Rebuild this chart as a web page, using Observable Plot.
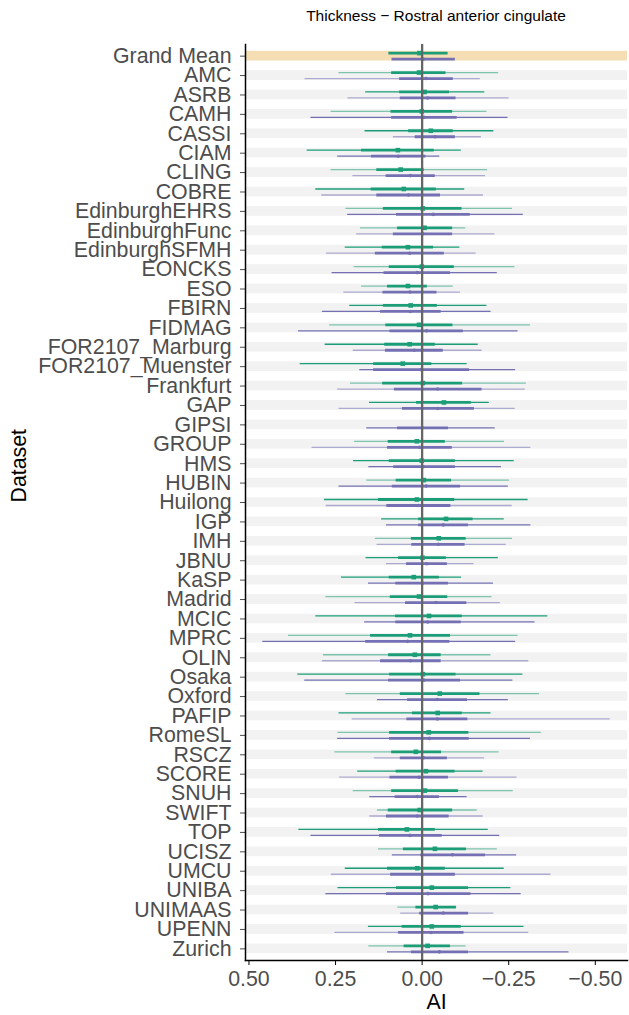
<!DOCTYPE html>
<html><head><meta charset="utf-8">
<script src="https://cdn.jsdelivr.net/npm/d3@7"></script>
<script src="https://cdn.jsdelivr.net/npm/@observablehq/plot@0.6"></script>
<style>
body{margin:0;background:#fff;font-family:"Liberation Sans",Arial,sans-serif;}
#title{height:30px;box-sizing:border-box;padding-top:7px;padding-left:245px;padding-right:2px;text-align:center;font-size:15.5px;color:#000;line-height:18px;white-space:nowrap;}
</style></head><body>
<div id="title">Thickness − Rostral anterior cingulate</div>
<div id="chart"></div>
<script>
const datasets = ["Grand Mean","AMC","ASRB","CAMH","CASSI","CIAM","CLING","COBRE","EdinburghEHRS","EdinburghFunc","EdinburghSFMH","EONCKS","ESO","FBIRN","FIDMAG","FOR2107_Marburg","FOR2107_Muenster","Frankfurt","GAP","GIPSI","GROUP","HMS","HUBIN","Huilong","IGP","IMH","JBNU","KaSP","Madrid","MCIC","MPRC","OLIN","Osaka","Oxford","PAFIP","RomeSL","RSCZ","SCORE","SNUH","SWIFT","TOP","UCISZ","UMCU","UNIBA","UNIMAAS","UPENN","Zurich"];

// [outer upper, inner upper, median, inner lower, outer lower] of AI
const greenIntervals = [
[null,0.096,0.008,-0.075,null],
[0.240,0.088,0.009,-0.069,-0.221],
[0.163,0.065,-0.007,-0.079,-0.181],
[0.263,0.090,0.001,-0.088,-0.187],
[0.165,0.039,-0.025,-0.090,-0.207],
[0.332,0.175,0.070,-0.035,-0.113],
[0.263,0.131,0.062,-0.006,-0.189],
[0.307,0.147,0.053,-0.041,-0.123],
[0.220,0.112,-0.002,-0.115,-0.261],
[0.178,0.071,-0.007,-0.088,-0.126],
[0.222,0.115,0.041,-0.033,-0.109],
[0.196,0.095,0.001,-0.093,-0.268],
[0.175,0.100,0.041,-0.015,-0.090],
[0.209,0.112,0.033,-0.044,-0.187],
[0.267,0.105,0.009,-0.089,-0.313],
[0.280,0.108,0.036,-0.038,-0.162],
[0.352,0.140,0.056,-0.028,-0.130],
[0.207,0.114,-0.002,-0.117,-0.301],
[0.152,0.016,-0.063,-0.142,-0.194],
null,
[0.195,0.098,0.015,-0.067,-0.238],
[0.198,0.095,0.001,-0.096,-0.266],
[0.160,0.075,-0.005,-0.085,-0.252],
[0.282,0.126,0.015,-0.094,-0.306],
[0.117,0.010,-0.069,-0.147,-0.237],
[0.135,0.031,-0.048,-0.127,-0.261],
[0.162,0.068,-0.001,-0.070,-0.220],
[0.233,0.095,0.024,-0.050,-0.114],
[0.278,0.092,0.009,-0.074,-0.202],
[0.307,0.077,-0.020,-0.116,-0.363],
[0.386,0.149,0.035,-0.082,-0.277],
[0.285,0.097,0.021,-0.055,-0.199],
[0.359,0.094,-0.002,-0.098,-0.291],
[0.220,0.063,-0.051,-0.167,-0.339],
[0.240,0.028,-0.045,-0.116,-0.199],
[0.243,0.094,-0.019,-0.135,-0.344],
[0.252,0.088,0.018,-0.056,-0.222],
[0.186,0.075,-0.011,-0.095,-0.176],
[0.199,0.088,-0.008,-0.105,-0.263],
[0.129,0.098,0.007,-0.088,-0.159],
[0.356,0.126,0.044,-0.038,-0.191],
[0.126,0.054,-0.037,-0.128,-0.217],
[0.222,0.100,0.014,-0.067,-0.237],
[0.243,0.074,-0.028,-0.134,-0.256],
[0.070,0.018,-0.039,-0.099,-0.100],
[0.155,0.058,-0.028,-0.113,-0.294],
[0.154,0.052,-0.016,-0.082,-0.127]
];

const purpleIntervals = [
[null,0.087,-0.003,-0.096,null],
[0.338,0.065,-0.011,-0.090,-0.168],
[0.214,0.063,-0.016,-0.098,-0.251],
[0.321,0.088,-0.005,-0.101,-0.248],
[0.083,0.020,-0.037,-0.096,-0.171],
[0.244,0.146,0.069,-0.011,-0.051],
[0.200,0.104,0.034,-0.038,-0.183],
[0.290,0.131,0.039,-0.053,-0.177],
[0.215,0.074,-0.032,-0.139,-0.292],
[0.189,0.083,-0.002,-0.088,-0.210],
[0.276,0.135,0.036,-0.064,-0.156],
[0.260,0.110,0.014,-0.082,-0.217],
[0.226,0.113,0.035,-0.043,-0.111],
[0.288,0.120,0.034,-0.055,-0.199],
[0.357,0.093,-0.013,-0.119,-0.277],
[0.199,0.106,0.023,-0.061,-0.173],
[0.180,0.140,0.003,-0.137,-0.270],
[0.244,0.080,-0.045,-0.173,-0.298],
[0.240,0.057,-0.045,-0.151,-0.269],
[0.160,0.071,0.000,-0.076,-0.211],
[0.318,0.100,0.007,-0.087,-0.314],
[0.154,0.082,-0.004,-0.096,-0.229],
[0.240,0.086,-0.012,-0.111,-0.249],
[0.277,0.102,0.010,-0.083,-0.260],
[0.103,0.010,-0.061,-0.134,-0.314],
[0.130,0.030,-0.047,-0.124,-0.243],
[0.103,0.045,-0.013,-0.073,-0.150],
[0.155,0.076,-0.001,-0.076,-0.206],
[0.194,0.048,-0.040,-0.129,-0.226],
[0.166,0.076,-0.016,-0.113,-0.326],
[0.460,0.163,0.042,-0.080,-0.270],
[0.288,0.120,0.034,-0.055,-0.308],
[0.339,0.097,-0.005,-0.111,-0.262],
[0.129,0.042,-0.044,-0.131,-0.249],
[0.202,0.044,-0.044,-0.132,-0.543],
[0.244,0.094,-0.021,-0.136,-0.313],
[0.138,0.063,-0.004,-0.073,-0.180],
[0.238,0.093,0.009,-0.076,-0.274],
[0.151,0.078,0.014,-0.050,-0.130],
[0.151,0.103,0.014,-0.078,-0.176],
[0.321,0.123,0.035,-0.058,-0.224],
[0.086,0.004,-0.088,-0.183,-0.273],
[0.262,0.091,0.000,-0.096,-0.372],
[0.278,0.103,-0.017,-0.141,-0.286],
[0.062,0.007,-0.061,-0.134,-0.207],
[0.252,0.068,-0.026,-0.121,-0.308],
[0.100,0.031,-0.050,-0.134,-0.424]
];

// 1 = opaque outer interval, 0 = faded outer interval
const greenOuterSolid = [1,0,1,0,1,1,0,1,0,0,1,0,0,1,0,1,1,0,1,0,0,1,0,1,1,0,1,1,0,1,0,0,1,0,1,0,0,1,0,0,1,0,1,1,0,1,0];
const purpleOuterSolid = [1,0,0,1,0,1,0,0,1,0,0,1,0,1,1,0,1,0,0,1,0,1,1,0,1,0,0,1,0,1,1,0,1,1,0,1,0,0,1,0,1,1,0,1,0,0,1];

const xTicks = [0.5, 0.25, 0, -0.25, -0.5];
const xDomain = [0.51, -0.593];

function build(intervals, solid) {
  const out = [];
  datasets.forEach((name, i) => {
    const v = intervals[i];
    if (!v) return;
    out.push({name, o1: v[0], i1: v[1], med: v[2], i2: v[3], o2: v[4], op: solid[i] ? 1 : 0.55});
  });
  return out;
}
const green = build(greenIntervals, greenOuterSolid);
const purple = build(purpleIntervals, purpleOuterSolid);

const GREEN = "#1b9e77", PURPLE = "#7570b3";
const H = 985, MT = 14, MB = 55;
const step = (H - MT - MB) / (datasets.length + 0.2);
const off = 3;
const FS = 21.33;

const chart = Plot.plot({
  width: 629,
  height: H,
  marginLeft: 245,
  marginRight: 2,
  marginTop: MT,
  marginBottom: MB,
  style: {fontFamily: "'Liberation Sans', Arial, sans-serif", background: "white"},
  x: {domain: xDomain, ticks: xTicks, tickFormat: d3.format(".2f")},
  y: {type: "band", domain: datasets, paddingInner: 0, paddingOuter: 0.1, round: false},
  marks: [
    Plot.barX(datasets, {y: d => d, x1: xDomain[0], x2: xDomain[1],
      fill: d => d === "Grand Mean" ? "#f5deb3" : "#f2f2f2",
      insetTop: step / 4, insetBottom: step / 4}),
    Plot.ruleY(green.filter(d => d.o1 != null), {y: "name", x1: "o1", x2: "o2", stroke: GREEN, strokeOpacity: "op", strokeWidth: 1.3, dy: -off}),
    Plot.ruleY(purple.filter(d => d.o1 != null), {y: "name", x1: "o1", x2: "o2", stroke: PURPLE, strokeOpacity: "op", strokeWidth: 1.3, dy: off}),
    Plot.ruleY(green, {y: "name", x1: "i1", x2: "i2", stroke: GREEN, strokeWidth: 2.8, dy: -off}),
    Plot.ruleY(purple, {y: "name", x1: "i1", x2: "i2", stroke: PURPLE, strokeWidth: 2.8, dy: off}),
    Plot.dot(green, {x: "med", y: "name", symbol: "square", r: 2.6, fill: GREEN, stroke: null, dy: -off}),
    Plot.dot(purple, {x: "med", y: "name", symbol: "circle", r: 1.8, fill: PURPLE, stroke: null, dy: off}),
    Plot.ruleX([0], {stroke: "#666666", strokeWidth: 2.3}),
    Plot.axisX({ticks: xTicks, tickFormat: d3.format(".2f"), tickSize: 5, tickPadding: 5, fontSize: FS, label: null, color: "#4d4d4d", stroke: "black"}),
    Plot.axisY({tickSize: 5, tickPadding: 9, fontSize: FS, label: null, color: "#4d4d4d"}),
    Plot.frame({anchor: "left", stroke: "black", strokeWidth: 1.5}),
    Plot.frame({anchor: "bottom", stroke: "black", strokeWidth: 1.5}),
    Plot.text(["Dataset"], {frameAnchor: "left", dx: -226, rotate: -90, fontSize: FS, fill: "black"}),
    Plot.text(["AI"], {frameAnchor: "bottom", dy: 48, fontSize: FS, fill: "black"})
  ]
});
document.getElementById("chart").appendChild(chart);
</script>
</body></html>
